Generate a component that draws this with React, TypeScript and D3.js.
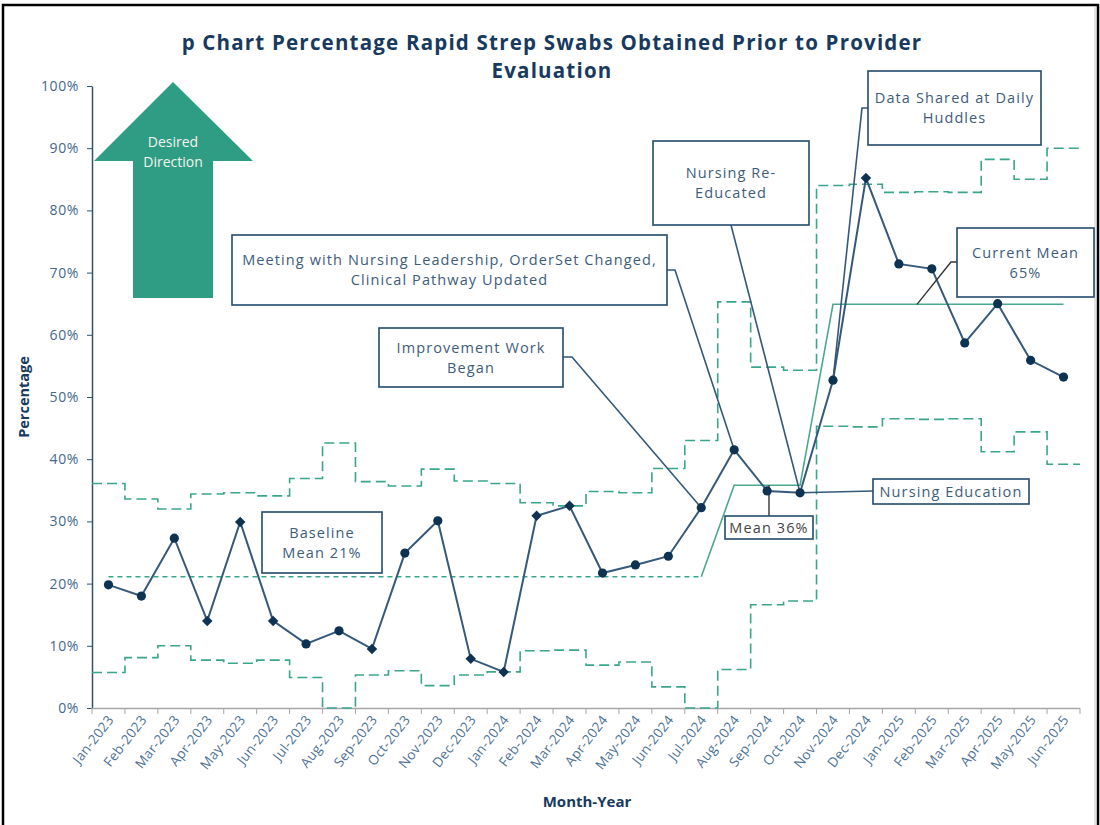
import React, { useEffect, useRef } from "react";
import * as d3 from "d3";

const months = [
  "Jan-2023", "Feb-2023", "Mar-2023", "Apr-2023", "May-2023", "Jun-2023",
  "Jul-2023", "Aug-2023", "Sep-2023", "Oct-2023", "Nov-2023", "Dec-2023",
  "Jan-2024", "Feb-2024", "Mar-2024", "Apr-2024", "May-2024", "Jun-2024",
  "Jul-2024", "Aug-2024", "Sep-2024", "Oct-2024", "Nov-2024", "Dec-2024",
  "Jan-2025", "Feb-2025", "Mar-2025", "Apr-2025", "May-2025", "Jun-2025",
];

// percentage of swabs obtained prior to provider evaluation
const pctObtained = [
  19.8, 18.0, 27.3, 14.0, 29.9, 14.0, 10.3, 12.4, 9.5, 24.9, 30.1, 7.9,
  5.8, 30.9, 32.5, 21.7, 23.0, 24.4, 32.2, 41.5, 34.9, 34.6, 52.7, 85.2,
  71.4, 70.6, 58.7, 65.0, 55.9, 53.2,
];

const ucl = [
  36.1, 33.6, 32.0, 34.4, 34.6, 34.1, 36.9, 42.6, 36.4, 35.7, 38.4, 36.5,
  36.1, 33.0, 32.5, 34.8, 34.6, 38.5, 43.0, 65.3, 54.8, 54.3, 84.0, 84.2,
  82.9, 83.0, 82.9, 88.2, 85.0, 90.0,
];

const lcl = [
  5.7, 8.1, 10.0, 7.7, 7.2, 7.7, 4.9, 0, 5.3, 6.0, 3.6, 5.3,
  5.8, 9.2, 9.3, 6.9, 7.4, 3.4, 0, 6.2, 16.6, 17.2, 45.3, 45.2,
  46.5, 46.4, 46.5, 41.2, 44.4, 39.2,
];

const centreLine = [
  21.1, 21.1, 21.1, 21.1, 21.1, 21.1, 21.1, 21.1, 21.1, 21.1, 21.1, 21.1,
  21.1, 21.1, 21.1, 21.1, 21.1, 21.1, 21.1, 35.8, 35.8, 35.8, 64.9, 64.9,
  64.9, 64.9, 64.9, 64.9, 64.9, 64.9,
];
const baselineEnd = "Jul-2024";

const diamondMonths = [
  "Apr-2023", "May-2023", "Jun-2023", "Sep-2023", "Dec-2023", "Jan-2024",
  "Feb-2024", "Mar-2024", "Dec-2024",
];

const yTicks = [0, 10, 20, 30, 40, 50, 60, 70, 80, 90, 100];

// callout boxes: [x, y, w, h], text lines, leader
const callouts = [
  { lines: ["Baseline", "Mean 21%"], box: [262, 512, 120, 61] },
  { lines: ["Improvement Work", "Began"], box: [379, 328, 184, 59], elbow: [563, 357, 572, 357], target: "Jul-2024" },
  { lines: ["Meeting with Nursing Leadership, OrderSet Changed,", "Clinical Pathway Updated"], box: [232, 235, 435, 70], elbow: [667, 270, 675, 270], target: "Aug-2024" },
  { lines: ["Nursing Re-", "Educated"], box: [653, 141, 156, 84], elbow: [731, 225, 731, 225], target: "Oct-2024" },
  { lines: ["Data Shared at Daily", "Huddles"], box: [868, 71, 173, 74], elbow: [868, 108, 862, 108], target: "Nov-2024" },
  { lines: ["Nursing Education"], box: [873, 479, 156, 25], elbow: [873, 491, 873, 491], target: "Oct-2024" },
];

const meanCallouts = [
  { lines: ["Current Mean", "65%"], box: [957, 228, 137, 69], elbow: [957, 262, 951, 262], month: "Jan-2025", frac: 0.55 },
  { lines: ["Mean 36%"], box: [725, 516, 88, 23], elbow: [769, 516, 769, 516], month: "Sep-2024", frac: 0.05 },
];

const FONT = "'Open Sans', 'Noto Sans', sans-serif";

export default function App() {
  const ref = useRef<SVGSVGElement>(null);

  useEffect(() => {
    const svg = d3.select(ref.current);
    svg.selectAll("*").remove();

    const x = d3.scaleBand().domain(months).range([92, 1080]);
    const bw = x.bandwidth();
    const cx = (m: string) => (x(m) as number) + bw / 2;
    const y = d3.scaleLinear().domain([0, 100]).range([708, 86]);

    // frame
    svg.append("rect").attr("x", 3).attr("y", 5).attr("width", 1095).attr("height", 840)
      .attr("fill", "white").attr("stroke", "black").attr("stroke-width", 2.5);
    svg.append("line").attr("x1", 1095).attr("x2", 1095).attr("y1", 6).attr("y2", 825)
      .attr("stroke", "#c8c8c8").attr("stroke-width", 1);

    // title
    const title = svg.append("text").attr("text-anchor", "middle")
      .attr("font-family", FONT).attr("font-weight", 700).attr("font-size", 20.5)
      .attr("letter-spacing", 1.2).attr("fill", "#173a5e");
    title.append("tspan").attr("x", 552).attr("y", 50).text("p Chart Percentage Rapid Strep Swabs Obtained Prior to Provider");
    title.append("tspan").attr("x", 552).attr("y", 78).text("Evaluation");

    // y axis
    const yAxis = svg.append("g").attr("transform", "translate(92,0)")
      .call(d3.axisLeft(y).tickValues(yTicks).tickFormat((d) => `${d}%`).tickSize(5).tickSizeOuter(0).tickPadding(8));
    yAxis.select(".domain").attr("stroke", "#2f5272").attr("stroke-width", 1.5);
    yAxis.selectAll(".tick line").attr("stroke", "#2f5272");
    yAxis.selectAll(".tick text").attr("font-family", FONT).attr("font-size", 14)
      .attr("letter-spacing", 0.6).attr("fill", "#456888");

    svg.append("text").attr("transform", "translate(29,397) rotate(-90)").attr("text-anchor", "middle")
      .attr("font-family", FONT).attr("font-weight", 700).attr("font-size", 14.5).attr("fill", "#173a5e")
      .text("Percentage");

    // x axis
    const xAxis = svg.append("g").attr("transform", "translate(0,708)")
      .call(d3.axisBottom(x).tickSize(0).tickPadding(0));
    xAxis.select(".domain").remove();
    xAxis.selectAll(".tick text")
      .attr("font-family", FONT).attr("font-size", 13.5).attr("letter-spacing", 0.3).attr("fill", "#4f7396")
      .attr("text-anchor", "end").attr("dy", 0)
      .attr("transform", "translate(6,12) rotate(-52)");
    svg.append("line").attr("x1", 92).attr("x2", 1080).attr("y1", 708.5).attr("y2", 708.5)
      .attr("stroke", "#a6a6a6").attr("stroke-width", 1.5);
    svg.append("g").selectAll("line").data([...months.map((m) => x(m) as number), 1080]).join("line")
      .attr("x1", (d) => d).attr("x2", (d) => d).attr("y1", 708).attr("y2", 714)
      .attr("stroke", "#a6a6a6").attr("stroke-width", 1);

    svg.append("text").attr("x", 587).attr("y", 807).attr("text-anchor", "middle")
      .attr("font-family", FONT).attr("font-weight", 700).attr("font-size", 15).attr("fill", "#173a5e")
      .text("Month-Year");

    // desired direction arrow
    svg.append("polygon")
      .attr("points", "173,82 253,161 213,161 213,298 133,298 133,161 94,161")
      .attr("fill", "#2f9c84");
    const dd = svg.append("text").attr("text-anchor", "middle").attr("font-family", FONT)
      .attr("font-size", 14).attr("fill", "#f4f4ee");
    dd.append("tspan").attr("x", 173).attr("y", 147).text("Desired");
    dd.append("tspan").attr("x", 173).attr("y", 167).text("Direction");

    // control limits (step)
    const stepPath = (vals: number[]) => {
      let p = "";
      vals.forEach((v, i) => {
        const x0 = x(months[i]) as number;
        p += (i === 0 ? "M" : "L") + x0 + "," + y(v) + "L" + (x0 + bw) + "," + y(v);
      });
      return p;
    };
    [ucl, lcl].forEach((vals) => {
      svg.append("path").attr("d", stepPath(vals)).attr("fill", "none")
        .attr("stroke", "#3aa58b").attr("stroke-width", 1.6).attr("stroke-dasharray", "10,5");
    });

    // centre line
    const cLine = d3.line<number>().x((d, i) => cx(months[i])).y((d) => y(d));
    const bIdx = months.indexOf(baselineEnd);
    svg.append("path").attr("d", cLine(centreLine.slice(0, bIdx + 1)))
      .attr("fill", "none").attr("stroke", "#3aa58b").attr("stroke-width", 1.5).attr("stroke-dasharray", "5,4");
    const cLine2 = d3.line<number>().x((d, i) => cx(months[i + bIdx])).y((d) => y(d));
    svg.append("path").attr("d", cLine2(centreLine.slice(bIdx)))
      .attr("fill", "none").attr("stroke", "#4aa890").attr("stroke-width", 1.6);

    // data line
    const dLine = d3.line<number>().x((d, i) => cx(months[i])).y((d) => y(d));
    svg.append("path").attr("d", dLine(pctObtained)).attr("fill", "none")
      .attr("stroke", "#35597a").attr("stroke-width", 2);

    // callout leaders
    callouts.forEach((c) => {
      if (!c.target) return;
      const i = months.indexOf(c.target);
      const [x1, y1, x2, y2] = c.elbow as number[];
      svg.append("path").attr("d", `M${x1},${y1}L${x2},${y2}L${cx(c.target)},${y(pctObtained[i])}`)
        .attr("fill", "none").attr("stroke", "#34587a").attr("stroke-width", 1.6);
    });
    meanCallouts.forEach((c) => {
      const i = months.indexOf(c.month);
      const tx = cx(c.month) + bw * c.frac;
      const [x1, y1, x2, y2] = c.elbow as number[];
      const tx2 = c.lines.length === 1 ? x2 : tx;
      svg.append("path").attr("d", `M${x1},${y1}L${x2},${y2}L${tx2},${y(centreLine[i])}`)
        .attr("fill", "none").attr("stroke", "#333").attr("stroke-width", 1.4);
    });

    // markers
    const mk = svg.append("g");
    pctObtained.forEach((v, i) => {
      const m = months[i];
      if (diamondMonths.includes(m)) {
        mk.append("path").attr("d", d3.symbol(d3.symbolDiamond2, 70)())
          .attr("transform", `translate(${cx(m)},${y(v)})`).attr("fill", "#0d3252");
      } else {
        mk.append("circle").attr("cx", cx(m)).attr("cy", y(v)).attr("r", 4.6).attr("fill", "#0d3252");
      }
    });

    // callout boxes
    [...callouts, ...meanCallouts].forEach((c) => {
      const [bx, by, w, h] = c.box;
      const isMean = meanCallouts.includes(c as any) && c.lines.length === 1;
      svg.append("rect").attr("x", bx).attr("y", by).attr("width", w).attr("height", h)
        .attr("fill", "white").attr("stroke", "#244a6d").attr("stroke-width", 1.6);
      const t = svg.append("text").attr("text-anchor", "middle").attr("font-family", FONT)
        .attr("font-size", 14.5).attr("letter-spacing", 1.1).attr("fill", isMean ? "#444" : "#3d5c7b");
      const n = c.lines.length;
      c.lines.forEach((s, k) => {
        t.append("tspan").attr("x", bx + w / 2)
          .attr("y", by + h / 2 + (k - (n - 1) / 2) * 20 + 5).text(s);
      });
    });
  }, []);

  return (
    <svg ref={ref} width={1100} height={825}
      style={{ position: "absolute", left: 0, top: 0, background: "white" }} />
  );
}
